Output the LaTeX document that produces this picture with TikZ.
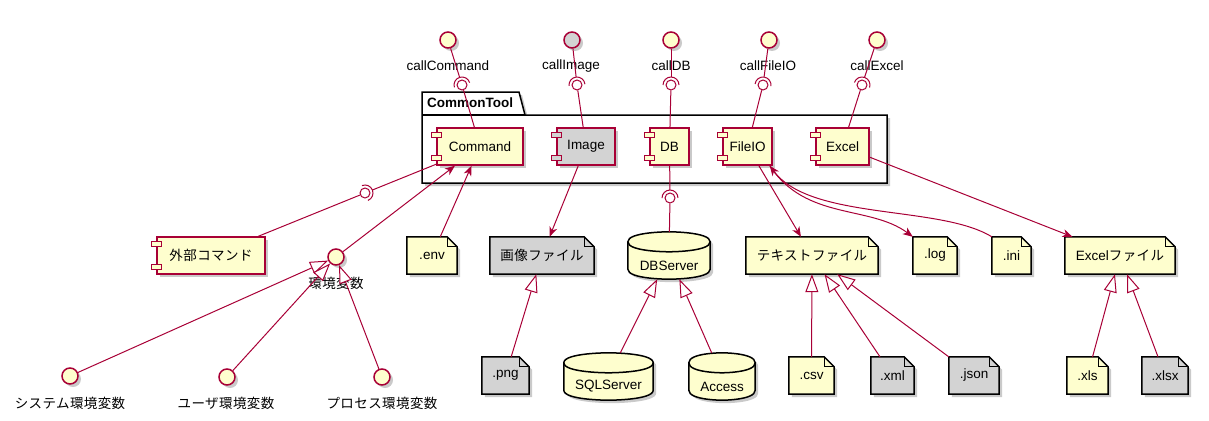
\documentclass[tikz,border=0pt]{standalone}
\usepackage{fontspec}
\setmainfont{Liberation Sans}
\newfontfamily\jp[LetterSpace=3]{Noto Sans CJK JP}
\usetikzlibrary{calc,arrows.meta,backgrounds,shadows}
\definecolor{umlred}{HTML}{A80036}
\definecolor{umlyel}{HTML}{FEFECE}
\definecolor{umlgry}{HTML}{D3D3D3}
\newcommand{\uml}{\fontsize{13.5pt}{16pt}\selectfont}
\tikzset{
  shd/.style={drop shadow={shadow xshift=3pt, shadow yshift=-3pt, opacity=0.35, fill=black!60}},
  comp/.style={rectangle, draw=umlred, line width=1.5pt, fill=umlyel, minimum height=37pt, inner sep=0pt, font=\uml, shd},
  ifc/.style={circle, draw=umlred, line width=1.5pt, fill=umlyel, minimum size=16pt, inner sep=0pt, shd},
  ball/.style={circle, draw=umlred, line width=1pt, fill=white, minimum size=10pt, inner sep=0pt},
  fnote/.style={rectangle, minimum height=37pt, inner sep=0pt, font=\uml},
  dbase/.style={rectangle, minimum height=47pt, inner sep=0pt, label={[font=\uml, yshift=-10pt]center:#1}},
  lbl/.style={font=\uml, inner sep=1pt},
  link/.style={draw=umlred, line width=1pt},
  arr/.style={link, -{Stealth[length=10pt, width=8pt, inset=3pt]}},
  gen/.style={link, -{Triangle[length=18pt, width=13pt, fill=white]}},
  bdr/.style={draw=black, line width=1.5pt},
}
\begin{document}
\begin{tikzpicture}[x=1pt, y=1pt]
  \useasboundingbox (0,0) rectangle (1209,-420);

  %% === CommonTool components ===
  \node[comp, minimum width=86pt] (cmd) at (480,-146.5) {Command};
  \node[comp, minimum width=58pt, fill=umlgry] (img) at (586,-146.5) {Image};
  \node[comp, minimum width=39pt] (db) at (669.5,-146.5) {DB};
  \node[comp, minimum width=49pt] (fio) at (747.5,-146.5) {FileIO};
  \node[comp, minimum width=53pt] (xl) at (842.5,-146.5) {Excel};
  \node[comp, minimum width=108pt] (ext) at (211,-255.5) {\jp 外部コマンド};
  \node[font=\uml\bfseries] (pkg) at (470,-103) {CommonTool};

  % component tabs
  \foreach \c/\f in {cmd/umlyel, img/umlgry, db/umlyel, fio/umlyel, xl/umlyel, ext/umlyel}{
    \draw[umlred, line width=1pt, fill=\f] ([xshift=-5pt, yshift=-5pt]\c.north west) rectangle ++(10,-5);
    \draw[umlred, line width=1pt, fill=\f] ([xshift=-5pt, yshift=5pt]\c.south west) rectangle ++(10,5);
  }

  %% === Provided interfaces ===
  \node[ifc] (iCmd) at (448,-40) {};
  \node[ifc, fill=umlgry] (iImg) at (572,-40) {};
  \node[ifc] (iDB) at (671,-40) {};
  \node[ifc] (iFio) at (769,-40) {};
  \node[ifc] (iXl) at (877,-40) {};
  \node[lbl] (tCmd) at (448,-66) {callCommand};
  \node[lbl] (tImg) at (571,-66) {callImage};
  \node[lbl] (tDB) at (671,-66) {callDB};
  \node[lbl] (tFio) at (768,-66) {callFileIO};
  \node[lbl] (tXl) at (877,-66) {callExcel};

  % sockets
  \node[ball] (sCmd) at (462,-85) {};
  \node[ball] (sImg) at (577,-85) {};
  \node[ball] (sDB) at (671,-85) {};
  \node[ball] (sFio) at (763,-85) {};
  \node[ball] (sXl) at (862,-85) {};
  \node[ball] (sExt) at (365,-193) {};
  \node[ball] (sDbs) at (670,-198) {};

  %% === Environment variables ===
  \node[ifc] (iEnv) at (336,-257) {};
  \node[ifc] (iSys) at (70,-376) {};
  \node[ifc] (iUsr) at (227,-377) {};
  \node[ifc] (iPrc) at (382,-377) {};
  \node[lbl] (tEnv) at (336,-283) {\jp 環境変数};
  \node[lbl] (tSys) at (70,-403) {\jp システム環境変数};
  \node[lbl] (tUsr) at (226,-403) {\jp ユーザ環境変数};
  \node[lbl] (tPrc) at (382,-403) {\jp プロセス環境変数};

  %% === Files ===
  \node[fnote, minimum width=50pt] (env) at (432,-255.5) {.env};
  \node[fnote, minimum width=104pt] (imgf) at (542,-255.5) {\jp 画像ファイル};
  \node[fnote, minimum width=132pt] (txt) at (812,-255.5) {\jp テキストファイル};
  \node[fnote, minimum width=44pt] (log) at (935,-255.5) {.log};
  \node[fnote, minimum width=39pt] (ini) at (1011.5,-255.5) {.ini};
  \node[fnote, minimum width=110pt] (xlf) at (1120,-255.5) {Excel{\jp ファイル}};
  \node[fnote, minimum width=47pt] (png) at (505.5,-375.5) {.png};
  \node[fnote, minimum width=45pt] (csv) at (811.5,-375.5) {.csv};
  \node[fnote, minimum width=43pt] (xml) at (892.5,-375.5) {.xml};
  \node[fnote, minimum width=50pt] (json) at (974,-375.5) {.json};
  \node[fnote, minimum width=41pt] (xls) at (1087.5,-375.5) {.xls};
  \node[fnote, minimum width=46pt] (xlsx) at (1165,-375.5) {.xlsx};

  %% === Databases ===
  \node[dbase=DBServer, minimum width=82pt] (dbs) at (669,-255.5) {};
  \node[dbase=SQLServer, minimum width=89pt] (sql) at (608.5,-376.5) {};
  \node[dbase=Access, minimum width=66pt] (acc) at (722,-376.5) {};

  \begin{scope}[on background layer]
    % package frame
    \draw[bdr, fill=white, shd] (422,-92) -- (519,-92) -- (525,-115) -- (887,-115)
      -- (887,-183) -- (422,-183) -- cycle;
    \draw[bdr] (422,-115) -- (525,-115);
    % file shapes
    \foreach \n/\f in {env/umlyel, imgf/umlgry, txt/umlyel, log/umlyel, ini/umlyel, xlf/umlyel,
                       png/umlgry, csv/umlyel, xml/umlgry, json/umlgry, xls/umlyel, xlsx/umlgry}{
      \draw[bdr, fill=\f, shd] (\n.north west) -- ([xshift=-10pt]\n.north east)
        -- ([yshift=-10pt]\n.north east) -- (\n.south east) -- (\n.south west) -- cycle;
      \draw[bdr, line width=1pt] ([xshift=-10pt]\n.north east) |- ([yshift=-10pt]\n.north east);
    }
    % database shapes
    \foreach \n in {dbs, sql, acc}{
      \draw[bdr, fill=umlyel, shd] ([yshift=-10pt]\n.north west)
        .. controls (\n.north west) and (\n.north) .. (\n.north)
        .. controls (\n.north) and (\n.north east) .. ([yshift=-10pt]\n.north east)
        -- ([yshift=10pt]\n.south east)
        .. controls (\n.south east) and (\n.south) .. (\n.south)
        .. controls (\n.south) and (\n.south west) .. ([yshift=10pt]\n.south west) -- cycle;
      \draw[bdr] ([yshift=-10pt]\n.north west)
        .. controls ([yshift=-20pt]\n.north west) and ([yshift=-20pt]\n.north) .. ([yshift=-20pt]\n.north)
        .. controls ([yshift=-20pt]\n.north) and ([yshift=-20pt]\n.north east) .. ([yshift=-10pt]\n.north east);
    }
  \end{scope}

  %% === Interface links (socket + ball) ===
  \foreach \i/\s/\c in {iCmd/sCmd/cmd, iImg/sImg/img, iDB/sDB/db, iFio/sFio/fio, iXl/sXl/xl,
                        cmd/sExt/ext, db/sDbs/dbs}{
    \draw[link] (\i) -- ($(\s)!8pt!(\i)$);
    \draw[link] let \p1=($(\i)-(\s)$), \n1={atan2(\y1,\x1)} in
      ($(\s)+(\n1-90:8)$) arc[start angle=\n1-90, end angle=\n1+90, radius=8];
    \draw[link] (\s) -- (\c);
  }

  %% === Dependencies ===
  \draw[arr] (iEnv) -- (cmd);
  \draw[arr] (env) -- (cmd);
  \draw[arr] (img) -- (imgf);
  \draw[arr] (fio) -- (txt);
  \draw[arr] (xl) -- (xlf);
  \draw[arr] ([xshift=-3pt]fio.south east) .. controls +(36,-55) and +(-43,32) .. (log.north west);
  \draw[arr, {Stealth[length=10pt, width=8pt, inset=3pt]}-] ([xshift=-3pt]fio.south east)
    .. controls +(41,-55) and +(-52,32) .. (ini.north west);

  %% === Generalizations ===
  \draw[gen] (iSys) -- (iEnv);
  \draw[gen] (iUsr) -- (iEnv);
  \draw[gen] (iPrc) -- (iEnv);
  \draw[gen] (png) -- (imgf);
  \draw[gen] (sql) -- (dbs);
  \draw[gen] (acc) -- (dbs);
  \draw[gen] (csv) -- (txt);
  \draw[gen] (xml) -- (txt);
  \draw[gen] (json) -- (txt);
  \draw[gen] (xls) -- (xlf);
  \draw[gen] (xlsx) -- (xlf);
\end{tikzpicture}
\end{document}
